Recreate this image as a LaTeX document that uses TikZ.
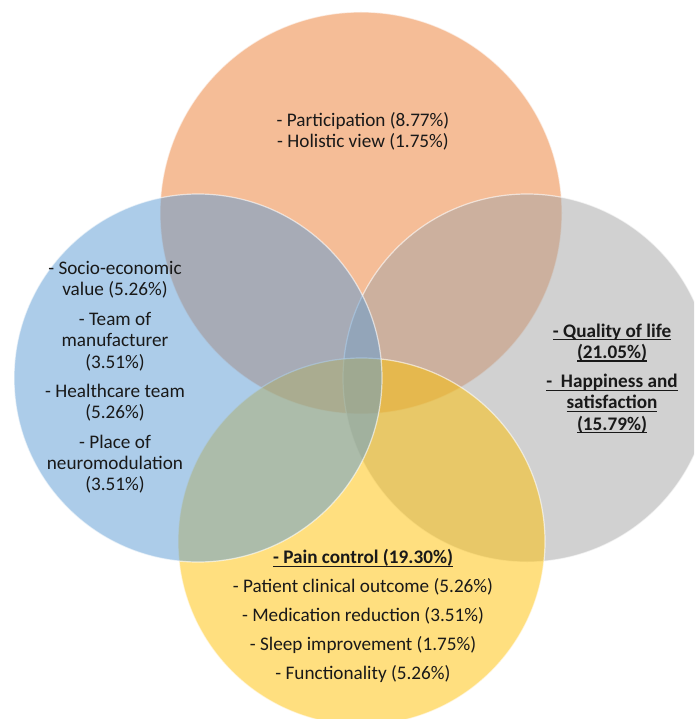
\documentclass[tikz,border=0pt]{standalone}
\usepackage{fontspec}
\setmainfont{Carlito}
\newcommand\myul[1]{\setbox0\hbox{#1}\rlap{\vrule height -2.1pt depth 3.2pt width \wd0}\box0}
\definecolor{cOrange}{RGB}{237,125,49}
\definecolor{cBlue}{RGB}{91,155,213}
\definecolor{cGray}{RGB}{165,165,165}
\definecolor{cGold}{RGB}{255,192,0}
\definecolor{txt}{RGB}{25,25,25}
\begin{document}
\begin{tikzpicture}[x=1pt,y=-1pt,
  venn/.style={circle, inner sep=0pt, outer sep=0pt, fill opacity=0.5, draw=white, draw opacity=0.6, line width=1.2pt},
  lbl/.style={align=center, text=txt, font=\fontsize{19.2}{21.3}\selectfont}]
\useasboundingbox (0,0) rectangle (694,719);
\clip (0,0) rectangle (694,719);
\fill[white] (0,0) rectangle (694,719);
\node[venn, fill=cOrange, minimum size=402pt] (orange) at (361,213) {};
\node[venn, fill=cGray, minimum size=368pt] (gray) at (527,378) {};
\node[venn, fill=cGold, minimum size=367pt] (gold) at (361.5,541.5) {};
\node[venn, fill=cBlue, minimum size=368pt] (blue) at (198,378) {};
\node[lbl] (torange) at (363,131) {- Participation (8.77\%)\\- Holistic view (1.75\%)};
\node[lbl] (tblue) at (115,377.5) {- Socio-economic\\value (5.26\%)\\[8.2pt]- Team of\\manufacturer\\(3.51\%)\\[8.2pt]- Healthcare team\\(5.26\%)\\[8.2pt]- Place of\\neuromodulation\\(3.51\%)};
\node[lbl, font=\fontsize{19.2}{21.3}\selectfont\bfseries] (tgray) at (612,378.5) {\myul{- Quality of life}\\\myul{(21.05\%)}\\[8pt]\myul{-\ \ Happiness and}\\\myul{satisfaction}\\\myul{(15.79\%)}};
\node[lbl] (tgold) at (363,616) {\textbf{\myul{- Pain control (19.30\%)}}\\[7.6pt]- Patient clinical outcome (5.26\%)\\[7.6pt]- Medication reduction (3.51\%)\\[7.6pt]- Sleep improvement (1.75\%)\\[7.6pt]- Functionality (5.26\%)};
\end{tikzpicture}
\end{document}
